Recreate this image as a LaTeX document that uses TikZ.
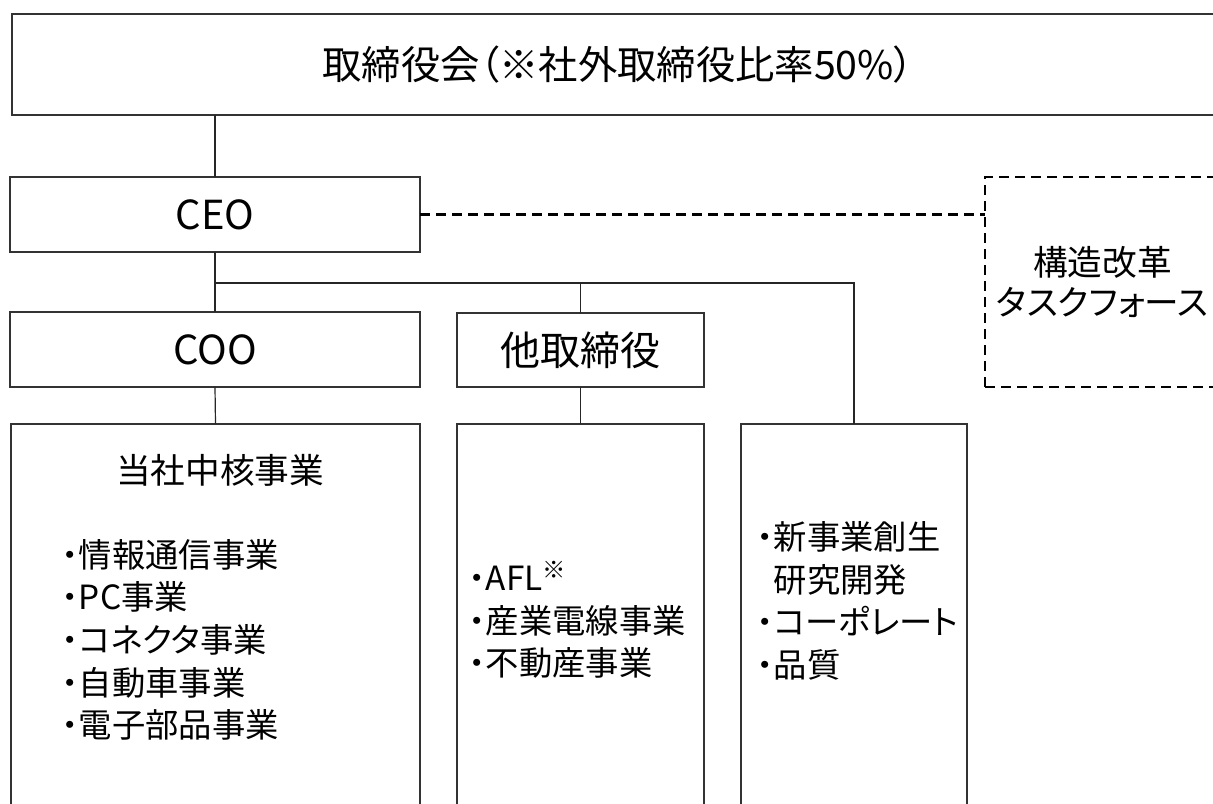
\documentclass[tikz,border=0pt]{standalone}
\usepackage{fontspec}
\setmainfont{Noto Sans CJK JP}[RawFeature=+palt]
\usepackage{tikz}
\usetikzlibrary{calc}

\begin{document}
\begin{tikzpicture}[x=0.75pt, y=-0.75pt,
        box/.style={draw=black!80, line width=0.8pt, rectangle, inner sep=0pt, outer sep=0pt, fill=white},
        tfbox/.style={draw=black, line width=2pt, dash pattern=on 7.5pt off 4.5pt, rectangle, inner sep=0pt, outer sep=0pt},
        link/.style={black!85, line width=0.9pt},
        item/.style={align=left, anchor=west, inner sep=0pt, font=\fontsize{25}{32}\selectfont}]
        \useasboundingbox (0,0) rectangle (1213,803);
        \clip (0,0) rectangle (1213,803);

        \node[box, minimum width=909pt, minimum height=75.75pt, font=\fontsize{29.5}{32}\selectfont] (board) at (618,64.5) {取締役会（※社外取締役比率50\%）};

        \node[box, minimum width=307.5pt, minimum height=56.25pt, font=\fontsize{30}{32}\selectfont] (CEO) at (215,214.5) {CEO};
        \node[box, minimum width=307.5pt, minimum height=56.25pt, font=\fontsize{30}{32}\selectfont] (COO) at (215,349.5) {COO};
        \node[box, minimum width=185.25pt, minimum height=55.5pt, font=\fontsize{30}{32}\selectfont] (other) at (580.5,350) {他取締役};

        \node[tfbox, minimum width=176.25pt, minimum height=157.5pt, align=center, font=\fontsize{26}{30}\selectfont] (task) at (1102.5,282) {構造改革\\タスクフォース};

        % lower boxes, cut off at the bottom
        \node[box, minimum width=306.75pt, minimum height=304.5pt] (core) at (215.5,627) {};
        \node[box, minimum width=185.25pt, minimum height=304.5pt] (mid) at (580.5,627) {};
        \node[box, minimum width=169.5pt, minimum height=304.5pt] (third) at (854,627) {};

        \node[font=\fontsize{26}{30}\selectfont] (coretitle) at (220,470) {当社中核事業};
        \node[item] (corelist) at (62,640) {・情報通信事業\\・PC事業\\・コネクタ事業\\・自動車事業\\・電子部品事業};
        \node[item] (midlist) at (469,620) {・AFL\textsuperscript{※}\\・産業電線事業\\・不動産事業};
        \node[item] (thirdlist) at (757,601) {・新事業創生\\\phantom{・}研究開発\\・コーポレート\\・品質};

        % connectors
        \coordinate (bus) at (215,283);
        \draw[link] (CEO.north) -- (CEO.north |- board.south);
        \draw[link] (CEO.south) -- (COO.north);
        \draw[link] (CEO.south |- bus) -| (third.north);
        \draw[link] (other.north) -- (other.north |- bus);
        \draw[link] (COO.south) -- (core.north);
        \draw[link] (other.south) -- (mid.north);

        % dashed link to the task force
        \draw[black, line width=2pt, dash pattern=on 7.5pt off 4.5pt] (CEO.east) -- (task.west |- CEO.east);
\end{tikzpicture}
\end{document}
